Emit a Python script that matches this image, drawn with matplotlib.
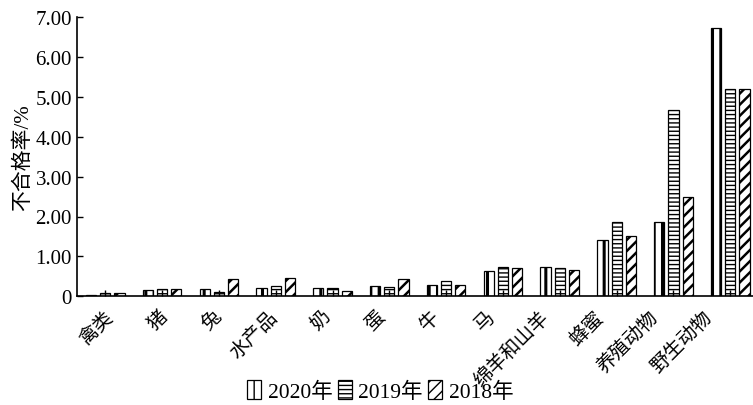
import numpy as np
import matplotlib
matplotlib.use("Agg")
import matplotlib.pyplot as plt
import matplotlib.transforms as mtransforms

plt.rcParams['font.family'] = ['Liberation Serif', 'Noto Sans CJK SC']

# data
categories = ['禽类', '猪', '兔', '水产品', '奶', '蛋', '牛', '马',
              '绵羊和山羊', '蜂蜜', '养殖动物', '野生动物']
rate_2020 = [0.02, 0.15, 0.17, 0.20, 0.20, 0.26, 0.28, 0.62, 0.74, 1.40, 1.86, 6.72]
rate_2019 = [0.08, 0.17, 0.10, 0.25, 0.20, 0.23, 0.38, 0.73, 0.71, 1.86, 4.67, 5.21]
rate_2018 = [0.08, 0.17, 0.43, 0.45, 0.13, 0.44, 0.27, 0.71, 0.65, 1.52, 2.49, 5.21]
series = [('2020年', rate_2020, '||', 2.2), ('2019年', rate_2019, '----', 1.0),
          ('2018年', rate_2018, '///', 1.8)]

fig = plt.figure(figsize=(7.53, 4.06), dpi=100)
ax = fig.add_axes([0.102, 0.268, 0.898, 0.687])

x = np.arange(len(categories))
w = 0.18
offs = [-0.25, 0, 0.25]
for (lab, vals, h, hlw), o in zip(series, offs):
    with plt.rc_context({'hatch.linewidth': hlw}):
        ax.bar(x + o, vals, w, color='white', edgecolor='black', hatch=h, linewidth=0.9, label=lab)

ax.set_xlim(-0.5, 11.4)
ax.set_ylim(0, 7)
ax.set_yticks(np.arange(0, 8))
ax.set_yticklabels(['0'] + ['%.2f' % v for v in range(1, 8)], fontsize=15)
ax.set_xticks(x)
ax.set_xticklabels([])
# category labels drift left of their groups towards the right in the original
for i, name in enumerate(categories):
    dx = (-1 - i * 26 / 11) / 100
    tr = ax.get_xaxis_transform() + mtransforms.ScaledTranslation(dx, -0.11, fig.dpi_scale_trans)
    ax.text(x[i], 0, name, transform=tr, rotation=45, ha='right', va='top',
            rotation_mode='anchor', fontsize=14)
ax.tick_params(direction='in', length=4, width=1)
for s in ['top', 'right']:
    ax.spines[s].set_visible(False)
for s in ['left', 'bottom']:
    ax.spines[s].set_linewidth(1.2)
ax.set_ylabel('不合格率/%', fontsize=15, labelpad=2)

fig.legend(*ax.get_legend_handles_labels(), loc='center', bbox_to_anchor=(0.505, 0.035),
           ncol=3, frameon=False, fontsize=15.5, handlelength=0.65, handleheight=1.0,
           handletextpad=0.3, columnspacing=0.25, borderaxespad=0, borderpad=0)

fig.savefig('out.png', dpi=100)
